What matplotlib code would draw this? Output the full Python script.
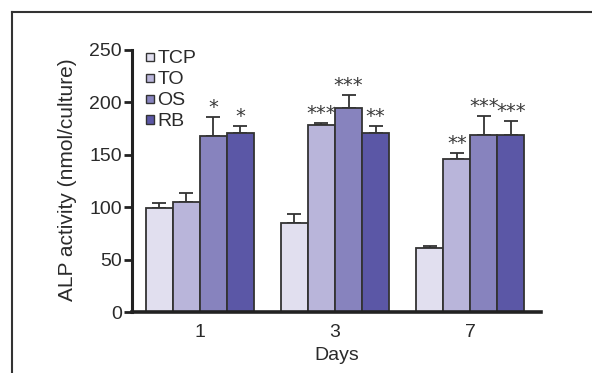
import matplotlib
matplotlib.use("Agg")
import matplotlib.pyplot as plt
from matplotlib.patches import Rectangle
import numpy as np

days = ["1", "3", "7"]
groups = ["TCP", "TO", "OS", "RB"]
means = {
    "TCP": [99, 85, 61],
    "TO": [105, 178, 146],
    "OS": [168, 195, 169],
    "RB": [170.5, 171, 169],
}
errs = {
    "TCP": [5, 9, 2],
    "TO": [9, 2, 5.5],
    "OS": [18, 12, 18],
    "RB": [6.5, 6.5, 13],
}
stars = {
    "TCP": ["", "", ""],
    "TO": ["", "***", "**"],
    "OS": ["*", "***", "***"],
    "RB": ["*", "**", "***"],
}
colors = ["#E1DFEF", "#B9B5DA", "#8783BE", "#5B57A6"]
yticks = [0, 50, 100, 150, 200, 250]

TXT = "#2a2a2a"
plt.rcParams['font.family'] = ['Liberation Sans', 'DejaVu Sans']

W, H = 592, 373
fig = plt.figure(figsize=(W / 100, H / 100), dpi=100)
# outer frame lines (top and left)
fig.add_artist(plt.Line2D([12 / W, 1.0], [1 - 12 / H, 1 - 12 / H], color="#333333", lw=1.5,
                          transform=fig.transFigure))
fig.add_artist(plt.Line2D([12 / W, 12 / W], [0, 1 - 12 / H], color="#333333", lw=1.5,
                          transform=fig.transFigure))

L, R, B, T = 132.3, 540.7, 312.3, 49.8
ax = fig.add_axes([L / W, 1 - B / H, (R - L) / W, (B - T) / H])


def axpx(px, py):
    return (px - L) / (R - L), (B - py) / (B - T)


x = np.arange(len(days))
w = 0.2
for i, g in enumerate(groups):
    xs = x + (i - 1.5) * w
    ax.bar(xs, means[g], width=w, color=colors[i], edgecolor="#333333", linewidth=1.3, zorder=2)
    ax.errorbar(xs, means[g], yerr=[np.zeros(3), errs[g]], fmt="none", ecolor="#333333",
                elinewidth=1.3, capsize=5.3, capthick=1.3, zorder=1)
    for xi, m, e, s in zip(xs, means[g], errs[g], stars[g]):
        if s:
            ax.annotate(s, (xi, m + e), xytext=(0, 3), textcoords="offset points",
                        ha="center", va="baseline", fontsize=14, color="#3a3a3a",
                        family=["DejaVu Sans"])

ax.set_xlim(-0.498, 2.52)
ax.set_ylim(0, 250)
ax.set_yticks(yticks)
ax.set_xticks(x)
ax.set_xticklabels(days)
ax.spines["top"].set_visible(False)
ax.spines["right"].set_visible(False)
ax.spines["left"].set_linewidth(2.2)
ax.spines["bottom"].set_linewidth(2.6)
ax.spines["left"].set_color("#222222")
ax.spines["bottom"].set_color("#222222")
ax.tick_params(axis="y", length=6, width=2, labelsize=14, colors="#222222", labelcolor=TXT, pad=1.5)
ax.tick_params(axis="x", length=0, labelsize=14, labelcolor=TXT, pad=8.5)
ax.set_ylabel("ALP activity (nmol/culture)", fontsize=15, color=TXT)
ax.yaxis.set_label_coords(-0.135, 0.505)
ax.set_xlabel("Days", fontsize=14, color=TXT, labelpad=4)

# legend (manual, small squares)
rows = [56, 77.3, 98.3, 119]
for i, g in enumerate(groups):
    x0, y0 = axpx(145.5, rows[i] + 4.5)
    x1, y1 = axpx(153.5, rows[i] - 3.5)
    ax.add_patch(Rectangle((x0, y0), x1 - x0, y1 - y0, transform=ax.transAxes,
                           facecolor=colors[i], edgecolor="#333333", lw=1.0, clip_on=False))
    tx, ty = axpx(157.5, rows[i] + 7)
    ax.text(tx, ty, g, transform=ax.transAxes, fontsize=14, color=TXT, ha="left", va="baseline")

fig.savefig("out.png", dpi=100)
